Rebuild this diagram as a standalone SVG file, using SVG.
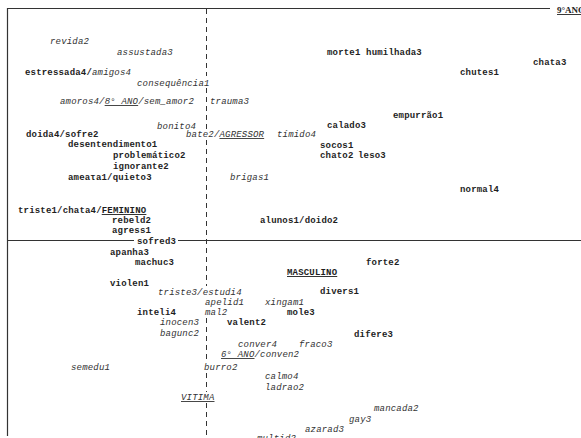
<svg xmlns="http://www.w3.org/2000/svg" width="581" height="438" viewBox="0 0 581 438">
<style>
.t{font-family:"Liberation Mono","DejaVu Sans Mono",monospace;font-size:9px;letter-spacing:0.18px;fill:#1e1e1e;font-weight:bold}
.i{font-style:italic;font-weight:normal;fill:#333}
.u{text-decoration:underline}
.ax{stroke:#333;stroke-width:1.2;fill:none}
.dash{stroke:#333;stroke-width:1;fill:none;stroke-dasharray:5 4}
</style>
<rect width="581" height="438" fill="#fff"/>
<g id="connectors">
<path class="ax" d="M7.5 8.5H550M7.5 8V436M7 240.5H134M178 240.5H581"/>
<path class="dash" d="M206.5 9V76M206.5 88V129M206.5 140V286M206.5 318V362M206.5 373V392M206.5 403V438"/>
</g>
<g id="labels">
<text id="n-9ano" x="557" y="13" style="font-family:'Liberation Serif',serif;font-size:9px;font-weight:bold;fill:#222" class="u">9°ANO</text>
<text id="n-revida2" class="t i" x="50" y="44">revida2</text>
<text id="n-assustada3" class="t i" x="117" y="55">assustada3</text>
<text id="n-morte1" class="t" x="327" y="55">morte1 humilhada3</text>
<text id="n-chata3" class="t" x="533" y="65">chata3</text>
<text id="n-estressada4" class="t" x="25" y="75">estressada4/<tspan class="i">amigos4</tspan></text>
<text id="n-chutes1" class="t" x="460" y="75">chutes1</text>
<text id="n-consequencia1" class="t i" x="137" y="86">consequência1</text>
<text id="n-amoros4" class="t i" x="60" y="104">amoros4/<tspan class="u">8° ANO</tspan>/sem_amor2</text>
<text id="n-trauma3" class="t i" x="210" y="104">trauma3</text>
<text id="n-empurrao1" class="t" x="393" y="118">empurrão1</text>
<text id="n-bonito4" class="t i" x="157" y="129">bonito4</text>
<text id="n-calado3" class="t" x="327" y="128">calado3</text>
<text id="n-doida4" class="t" x="26" y="137">doida4/sofre2</text>
<text id="n-bate2" class="t i" x="186" y="137">bate2/<tspan class="u">AGRESSOR</tspan></text>
<text id="n-timido4" class="t i" x="277" y="137">tímido4</text>
<text id="n-desentendimento1" class="t" x="68" y="147">desentendimento1</text>
<text id="n-socos1" class="t" x="320" y="148">socos1</text>
<text id="n-problematico2" class="t" x="113" y="158">problemático2</text>
<text id="n-chato2" class="t" x="320" y="158">chato2</text>
<text id="n-leso3" class="t" x="358" y="158">leso3</text>
<text id="n-ignorante2" class="t" x="113" y="169">ignorante2</text>
<text id="n-ameaca1" class="t" x="68" y="180">ameaτa1/quieto3</text>
<text id="n-brigas1" class="t i" x="230" y="180">brigas1</text>
<text id="n-normal4" class="t" x="460" y="192">normal4</text>
<text id="n-triste1" class="t" x="18" y="213">triste1/chata4/<tspan class="u">FEMININO</tspan></text>
<text id="n-rebeld2" class="t" x="112" y="223">rebeld2</text>
<text id="n-alunos1" class="t" x="260" y="223">alunos1/doido2</text>
<text id="n-agress1" class="t" x="112" y="233">agress1</text>
<text id="n-sofred3" class="t" x="137" y="244">sofred3</text>
<text id="n-apanha3" class="t" x="110" y="255">apanha3</text>
<text id="n-machuc3" class="t" x="135" y="265">machuc3</text>
<text id="n-forte2" class="t" x="366" y="265">forte2</text>
<text id="n-masculino" class="t u" x="287" y="275">MASCULINO</text>
<text id="n-violen1" class="t" x="110" y="286">violen1</text>
<text id="n-divers1" class="t" x="320" y="294">divers1</text>
<text id="n-triste3" class="t i" x="158" y="295">triste3/estudi4</text>
<text id="n-apelid1" class="t i" x="205" y="305">apelid1</text>
<text id="n-xingam1" class="t i" x="265" y="305">xingam1</text>
<text id="n-inteli4" class="t" x="137" y="315">inteli4</text>
<text id="n-mal2" class="t i" x="205" y="315">mal2</text>
<text id="n-mole3" class="t" x="287" y="315">mole3</text>
<text id="n-inocen3" class="t i" x="160" y="325">inocen3</text>
<text id="n-valent2" class="t" x="227" y="325">valent2</text>
<text id="n-difere3" class="t" x="354" y="337">difere3</text>
<text id="n-bagunc2" class="t i" x="160" y="336">bagunc2</text>
<text id="n-conver4" class="t i" x="238" y="347">conver4</text>
<text id="n-fraco3" class="t i" x="299" y="347">fraco3</text>
<text id="n-6ano" class="t i" x="221" y="357"><tspan class="u">6° ANO</tspan>/conven2</text>
<text id="n-semedu1" class="t i" x="71" y="370">semedu1</text>
<text id="n-burro2" class="t i" x="204" y="370">burro2</text>
<text id="n-calmo4" class="t i" x="265" y="379">calmo4</text>
<text id="n-ladrao2" class="t i" x="265" y="390">ladrao2</text>
<text id="n-vitima" class="t i u" x="181" y="400">VITIMA</text>
<text id="n-mancada2" class="t i" x="374" y="411">mancada2</text>
<text id="n-gay3" class="t i" x="349" y="422">gay3</text>
<text id="n-azarad3" class="t i" x="305" y="432">azarad3</text>
<text id="n-multid2" class="t i" x="257" y="441">multid2</text>
</g>
</svg>
